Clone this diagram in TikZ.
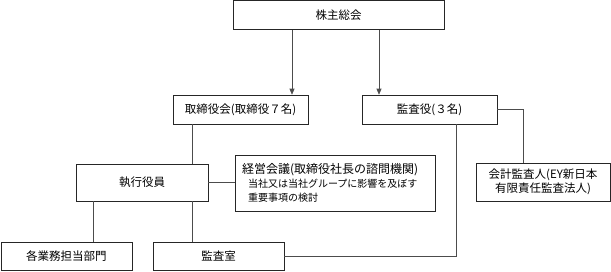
\documentclass[tikz,border=0pt]{standalone}
\usepackage{fontspec}
\setmainfont{Noto Sans CJK JP}
\usetikzlibrary{arrows.meta,shadows,positioning}

\begin{document}
\begin{tikzpicture}[
    x=1pt, y=-1pt,
    >={Stealth[length=6pt, width=5pt, inset=0pt]},
    line width=0.6pt,
    font=\fontsize{11.5}{14}\selectfont,
    orgbox/.style={draw=black!85, fill=white, inner sep=0pt,
      drop shadow={shadow xshift=0.9pt, shadow yshift=-0.9pt, fill=black!55, opacity=1}},
    link/.style={draw=black!70}
]
  \useasboundingbox (0,0) rectangle (611,271);

  % nodes
  \node[orgbox, minimum width=211pt, minimum height=29pt] (GM) at (338.5,15) {株主総会};
  \node[orgbox, minimum width=135pt, minimum height=29pt] (Board) at (240.5,109.5) {取締役会(取締役７名)};
  \node[orgbox, minimum width=135pt, minimum height=29pt] (Audit) at (429.5,109.5) {監査役(３名)};
  \node[orgbox, minimum width=134pt, minimum height=38pt, align=center] (CPA) at (543,182)
    {会計監査人(EY新日本\\有限責任監査法人)};
  \node[orgbox, minimum width=132pt, minimum height=37pt] (Exec) at (142,182.5) {執行役員};
  \node[orgbox, minimum height=56pt, text width=186pt, inner xsep=7pt, align=left] (Mgmt) at (335,183)
    {{\fontsize{12}{14}\selectfont 経営会議(取締役社長の諮問機関)}\\
     {\fontsize{10}{13}\selectfont\hspace*{6pt}当社又は当社グループに影響を及ぼす}\\
     {\fontsize{10}{13}\selectfont\hspace*{6pt}重要事項の検討}};
  \node[orgbox, minimum width=131pt, minimum height=28pt] (Dept) at (66.5,256) {各業務担当部門};
  \node[orgbox, minimum width=131pt, minimum height=28pt] (AuditOff) at (218.5,256) {監査室};

  % edges
  \draw[->, link] (GM.south -| 292,0) -- (Board.north -| 292,0);
  \draw[->, link] (GM.south -| 379,0) -- (Audit.north -| 379,0);
  \draw[link] (Board.south -| 192,0) -- (Exec.north -| 192,0);
  \draw[link] (Exec.east) -- (Exec.east -| Mgmt.west);
  \draw[link] (Exec.south -| 93,0) -- (Dept.north -| 93,0);
  \draw[link] (Exec.south -| 192,0) -- (AuditOff.north -| 192,0);
  \draw[link] (Audit.east) -| (CPA.north -| 523,0);
  \draw[link] (AuditOff.east) -| (Audit.south -| 456,0);
\end{tikzpicture}
\end{document}
